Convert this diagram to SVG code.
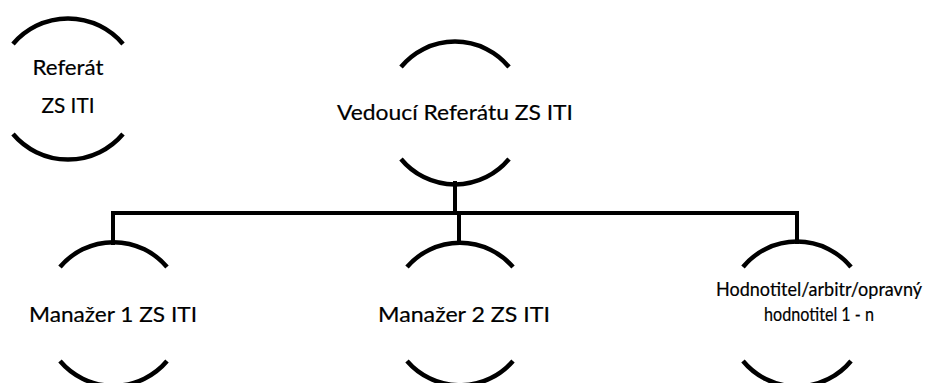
<svg xmlns="http://www.w3.org/2000/svg" width="935" height="383" viewBox="0 0 935 383">
<style>
.arc{fill:none;stroke:#000;stroke-width:4.5}
.ln{fill:none;stroke:#000;stroke-width:4;stroke-linecap:square}
text{font-family:Lato,"Open Sans","Liberation Sans",sans-serif;font-size:22px;fill:#000;stroke:#000;stroke-width:0.2;text-anchor:middle}
.sm{font-size:19px}
</style>
<rect width="935" height="383" fill="#fff"/>
<g id="connectors">
<path class="ln" d="M113 213 H797"/>
<path class="ln" d="M455 183 V213"/>
<path class="ln" d="M113 213 V243"/>
<path class="ln" d="M459 213 V242"/>
<path class="ln" d="M797 213 V242"/>
</g>
<g id="referat">
<path class="arc" d="M13 44 A72 72 0 0 1 123 44"/>
<path class="arc" d="M13 134 A72 72 0 0 0 123 134"/>
<text x="68" y="75" textLength="71" lengthAdjust="spacingAndGlyphs">Referát</text>
<text x="68" y="113" textLength="53" lengthAdjust="spacingAndGlyphs">ZS ITI</text>
</g>
<g id="vedouci">
<path class="arc" d="M401 67 A70 70 0 0 1 509 67"/>
<path class="arc" d="M401 159 A70 70 0 0 0 509 159"/>
<text x="455" y="120" textLength="236" lengthAdjust="spacingAndGlyphs">Vedoucí Referátu ZS ITI</text>
</g>
<g id="manazer1">
<path class="arc" d="M60 267 A70 70 0 0 1 167 267"/>
<path class="arc" d="M60 361 A70 70 0 0 0 167 361"/>
<text x="113" y="322" textLength="168" lengthAdjust="spacingAndGlyphs">Manažer 1 ZS ITI</text>
</g>
<g id="manazer2">
<path class="arc" d="M407 267 A70 70 0 0 1 513 267"/>
<path class="arc" d="M407 361 A70 70 0 0 0 513 361"/>
<text x="464" y="322" textLength="172" lengthAdjust="spacingAndGlyphs">Manažer 2 ZS ITI</text>
</g>
<g id="hodnotitel">
<path class="arc" d="M743 267 A70 70 0 0 1 851 267"/>
<path class="arc" d="M743 361 A70 70 0 0 0 851 361"/>
<text class="sm" x="819" y="296" textLength="206" lengthAdjust="spacingAndGlyphs">Hodnotitel/arbitr/opravný</text>
<text class="sm" x="819" y="321" textLength="110" lengthAdjust="spacingAndGlyphs">hodnotitel 1 - n</text>
</g>
</svg>
